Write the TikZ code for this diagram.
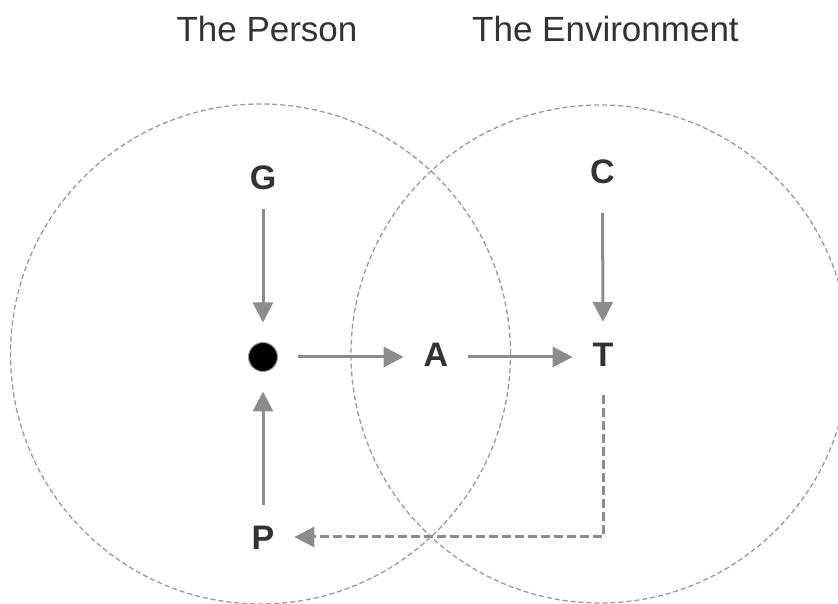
\documentclass[tikz,border=0pt]{standalone}
\usepackage{fontspec}
\setmainfont{Liberation Sans}
\usepackage{tikz}
\usetikzlibrary{arrows.meta,positioning}
\definecolor{grigio}{HTML}{8C8C8C}
\definecolor{grigiochiaro}{HTML}{999999}
\definecolor{testo}{HTML}{333333}

\begin{document}
\begin{tikzpicture}[line join=round,>={Triangle[length=20pt,width=20pt]},
		x=1pt,y=1pt,
		lettera/.style={font=\fontsize{34}{40}\selectfont\bfseries,text=testo,
			inner sep=0pt,outer sep=20pt,text height=24.3pt,text depth=0pt},
		titolo/.style={font=\fontsize{35}{42}\selectfont,text=testo,anchor=base},
		freccia/.style={->,color=grigio,line width=3pt},
		cerchio/.style={color=grigiochiaro,line width=1.3pt,dash pattern=on 5pt off 3pt}]
		\clip (0,0) rectangle (838,604);
		\draw[cerchio] (260.5,250) circle (250);%persona
		\draw[cerchio] (600,250) circle (249);%ambiente
		\node[titolo] (persona) at (267,562) {The Person};
		\node[titolo] (ambiente) at (605.5,562) {The Environment};
		\node[lettera] (G) at (263,427) {G};
		\node[lettera] (C) at (602.5,433) {C};
		\node[circle,fill=black,draw=grigiochiaro,line width=1pt,minimum size=29pt,
			inner sep=0pt,outer sep=20pt] (punto) at (263,247) {};
		\node[lettera] (A) at (436,250) {A};
		\node[lettera] (T) at (603,250) {T};
		\node[lettera] (P) at (263,67) {P};
		\draw[freccia] (G) -- (punto);
		\draw[freccia] (P) -- (punto);
		\draw[freccia,shorten <=10pt] (C) -- (T);
		\draw[freccia] (punto) -- (punto -| A.west);
		\draw[freccia] (A.east |- punto) -- (T.west |- punto);
		\draw[freccia,dash pattern=on 9pt off 4pt,shorten <=9pt] (T) |- (P); %ritorno
\end{tikzpicture}
\end{document}
